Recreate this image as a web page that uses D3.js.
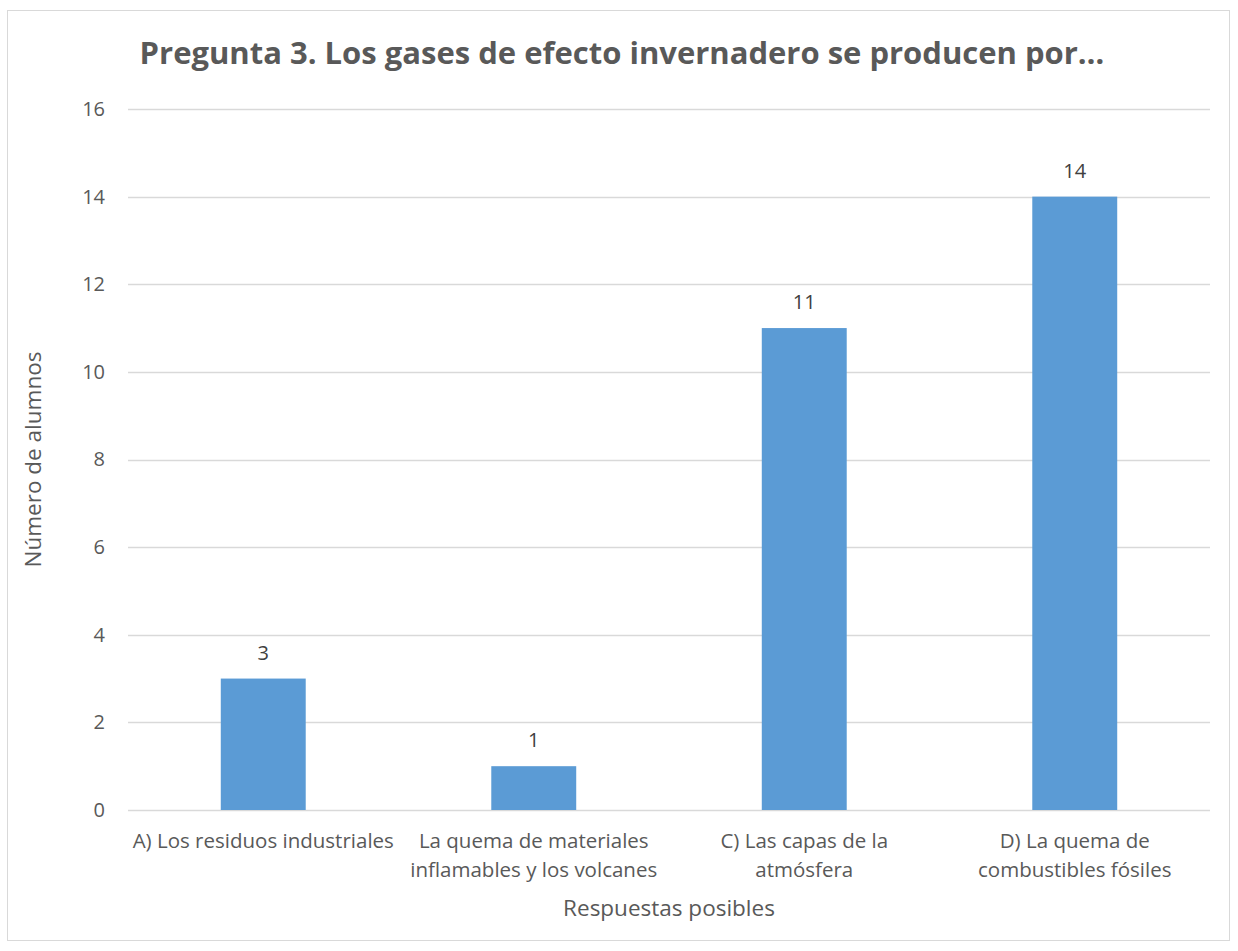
<!DOCTYPE html>
<html>
<head>
<meta charset="utf-8">
<script src="https://cdn.jsdelivr.net/npm/d3@7"></script>
<style>
  body { margin: 0; background: #fff; }
  svg text { font-family: "Open Sans", "Noto Sans", sans-serif; fill: #595959; }
</style>
</head>
<body>
<svg width="1238" height="951"></svg>
<script>
var categories = [
  ["A) Los residuos industriales"],
  ["La quema de materiales", "inflamables y los volcanes"],
  ["C) Las capas de la", "atmósfera"],
  ["D) La quema de", "combustibles fósiles"]
];
var values = [3, 1, 11, 14];
var yTicks = [0, 2, 4, 6, 8, 10, 12, 14, 16];

var svg = d3.select("svg"),
    margin = { top: 109, right: 28, bottom: 141, left: 128 },
    width = +svg.attr("width") - margin.left - margin.right,
    height = +svg.attr("height") - margin.top - margin.bottom;

// chart frame
svg.append("rect")
    .attr("x", 7.5).attr("y", 10.5)
    .attr("width", 1222).attr("height", 930)
    .attr("fill", "#fff")
    .attr("stroke", "#d9d9d9")
    .attr("stroke-width", 1);

var x = d3.scaleBand()
    .domain(d3.range(categories.length))
    .range([0, width])
    .paddingInner(0.686)
    .paddingOuter(0.343);

var y = d3.scaleLinear().domain([0, 16]).range([height, 0]);

var g = svg.append("g")
    .attr("transform", "translate(" + margin.left + "," + margin.top + ")");

// gridlines
g.append("g")
    .selectAll("line")
    .data(yTicks)
    .enter().append("line")
    .attr("x1", 0).attr("x2", width)
    .attr("y1", function (d) { return Math.round(y(d)) + 0.5; })
    .attr("y2", function (d) { return Math.round(y(d)) + 0.5; })
    .attr("stroke", "#d9d9d9")
    .attr("stroke-width", 1.3);

// y axis labels
var yAxis = d3.axisLeft(y).tickValues(yTicks).tickSize(0).tickPadding(23);
g.append("g")
    .attr("class", "axis axis--y")
    .call(yAxis)
    .call(function (s) { s.select(".domain").remove(); })
    .selectAll("text")
    .style("font-size", "20px");

// bars
g.selectAll(".bar")
    .data(values)
    .enter().append("rect")
    .attr("class", "bar")
    .attr("x", function (d, i) { return x(i); })
    .attr("y", function (d) { return y(d); })
    .attr("width", x.bandwidth())
    .attr("height", function (d) { return height - y(d); })
    .attr("fill", "#5b9bd5");

// data labels
g.selectAll(".label")
    .data(values)
    .enter().append("text")
    .attr("class", "label")
    .attr("x", function (d, i) { return x(i) + x.bandwidth() / 2; })
    .attr("y", function (d) { return y(d) - 19; })
    .attr("text-anchor", "middle")
    .style("font-size", "20px")
    .style("fill", "#404040")
    .text(function (d) { return d; });

// category labels
var cat = g.append("g")
    .selectAll("text")
    .data(categories)
    .enter().append("text")
    .attr("text-anchor", "middle")
    .attr("x", function (d, i) { return x(i) + x.bandwidth() / 2; })
    .attr("y", height + 38)
    .style("font-size", "20.5px");
cat.selectAll("tspan")
    .data(function (d) { return d; })
    .enter().append("tspan")
    .attr("x", function () { return d3.select(this.parentNode).attr("x"); })
    .attr("dy", function (d, i) { return i === 0 ? 0 : 29; })
    .text(function (d) { return d; });

// axis titles
svg.append("text")
    .attr("x", margin.left + width / 2)
    .attr("y", 916)
    .attr("text-anchor", "middle")
    .style("font-size", "22.5px")
    .text("Respuestas posibles");

svg.append("text")
    .attr("transform", "translate(41," + (margin.top + height / 2) + ") rotate(-90)")
    .attr("text-anchor", "middle")
    .style("font-size", "22.5px")
    .text("Número de alumnos");

// title
svg.append("text")
    .attr("x", 622)
    .attr("y", 64)
    .attr("text-anchor", "middle")
    .style("font-size", "31px")
    .style("font-weight", "bold")
    .text("Pregunta 3. Los gases de efecto invernadero se producen por…");
</script>
</body>
</html>
